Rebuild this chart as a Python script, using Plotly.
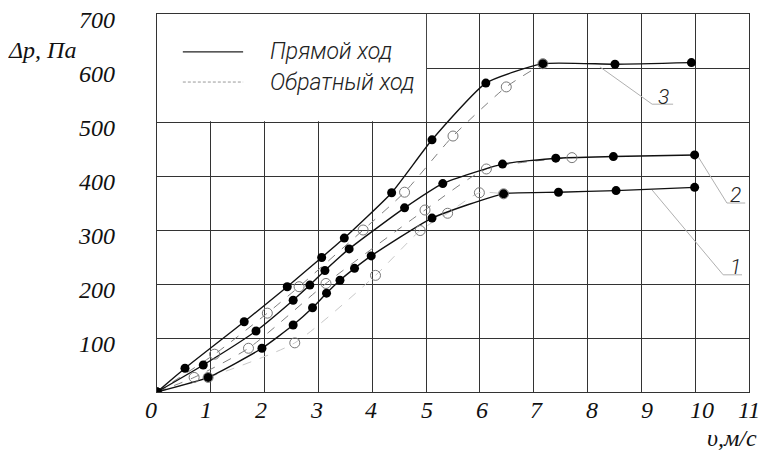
import plotly.graph_objects as go

# ---------------- data ----------------
v1_fwd = [0, 0.95, 1.95, 2.53, 2.89, 3.15, 3.40, 3.67, 3.98, 5.11, 6.44, 7.46, 8.53, 9.99]
p1_fwd = [0, 27, 81, 124, 156, 183, 207, 229, 252, 322, 367, 370, 373, 379]
v1_rev = [0, 0.95, 2.56, 4.06, 4.89, 5.40, 5.99, 6.44]
p1_rev = [0, 27, 91, 216, 299, 331, 369, 367]

v2_fwd = [0, 0.86, 1.84, 2.53, 2.84, 3.12, 3.57, 4.60, 5.31, 6.42, 7.41, 8.48, 9.99]
p2_fwd = [0, 50, 113, 170, 198, 225, 265, 341, 386, 422, 433, 436, 439]
v2_rev = [0, 0.69, 1.70, 3.14, 4.98, 6.12, 7.71]
p2_rev = [0, 27, 81, 201, 337, 413, 434]

v3_fwd = [0, 0.52, 1.62, 2.42, 3.06, 3.48, 4.36, 5.11, 6.11, 7.17, 8.51, 9.93]
p3_fwd = [0, 44, 130, 195, 249, 285, 369, 467, 572, 608, 607, 610]
v3_rev = [0, 1.07, 2.05, 2.64, 3.83, 4.60, 5.50, 6.49, 7.17]
p3_rev = [0, 70, 146, 195, 300, 370, 474, 565, 608]

x_ticks = list(range(0, 12))
x_tick_labels = [str(v) for v in x_ticks]
y_ticks = [100, 200, 300, 400, 500, 600, 700]
y_tick_labels = [str(v) for v in y_ticks]

legend_labels = ["Прямой ход", "Обратный ход"]
curve_labels = ["1", "2", "3"]
x_title = "υ,м/с"
y_title = "Δp, Па"

# ---------------- figure ----------------
# the page body has an 8px margin, so the figure is made 8px smaller
W, H = 759, 444
L, R, T, B = 149, 18, 6, 60

serif = "serif"
gost = "Roboto"

fig = go.Figure()

dash_gray = "#808080"
light_gray = "#c8c8c8"

rev_sets = [(v1_rev, p1_rev, light_gray, "dash"),
            (v2_rev, p2_rev, dash_gray, "dash"),
            (v3_rev, p3_rev, dash_gray, "dash")]
fwd_sets = [(v1_fwd, p1_fwd), (v2_fwd, p2_fwd), (v3_fwd, p3_fwd)]

for vx, py, col, dsh in rev_sets:
    fig.add_trace(go.Scatter(x=vx, y=py, mode="lines",
                             line=dict(color=col, width=1, dash=dsh, shape="spline", smoothing=0.6),
                             showlegend=False, hoverinfo="skip"))
for vx, py in fwd_sets:
    fig.add_trace(go.Scatter(x=vx, y=py, mode="lines",
                             line=dict(color="#111111", width=1.4, shape="spline", smoothing=0.5),
                             showlegend=False, hoverinfo="skip"))
for vx, py, col, dsh in rev_sets:
    fig.add_trace(go.Scatter(x=vx[1:], y=py[1:], mode="markers",
                             marker=dict(symbol="circle-open", size=10, color="#777777",
                                         line=dict(width=1, color="#777777")),
                             showlegend=False, hoverinfo="skip"))
for vx, py in fwd_sets:
    fig.add_trace(go.Scatter(x=vx, y=py, mode="markers",
                             marker=dict(symbol="circle", size=9, color="#000000"),
                             showlegend=False, hoverinfo="skip"))

axis_common = dict(showgrid=True, gridcolor="#333333", gridwidth=1, zeroline=False,
                   showline=True, linecolor="#333333", linewidth=1, mirror=True,
                   ticks="", showticklabels=False)

fig.update_xaxes(range=[0, 11], tickvals=x_ticks, **axis_common)
fig.update_yaxes(range=[0, 700], tickvals=[0] + y_ticks, **axis_common)

shapes = []
shapes.append(dict(type="rect", xref="x", yref="y", x0=0, x1=5, y0=501.5, y1=700,
                   fillcolor="white", line=dict(width=0), layer="between"))
shapes.append(dict(type="line", xref="x", yref="y", x0=0.48, x1=1.6, y0=630, y1=630,
                   line=dict(color="#222222", width=1.2)))
shapes.append(dict(type="line", xref="x", yref="y", x0=0.48, x1=1.6, y0=574, y1=574,
                   line=dict(color="#999999", width=1, dash="3px,2px")))
leaders = [
    [(9.20, 374), (10.52, 217), (10.87, 217)],
    [(10.06, 435), (10.59, 350), (10.93, 350)],
    [(8.23, 602), (9.20, 533), (9.59, 533)],
]
for pts in leaders:
    for (xa, ya), (xb, yb) in zip(pts[:-1], pts[1:]):
        shapes.append(dict(type="line", xref="x", yref="y", x0=xa, y0=ya, x1=xb, y1=yb,
                           line=dict(color="#b0b0b0", width=1)))
shapes.append(dict(type="line", xref="paper", yref="paper", x0=-0.253, x1=1.005, y0=1.021, y1=1.021,
                   line=dict(color="#eeeeee", width=1)))

ann = []
for v, t in zip(x_ticks, x_tick_labels):
    shift = -6 + 1.3 * v if v < 11 else 0
    ann.append(dict(x=v, y=0, xref="x", yref="paper", text=t, showarrow=False,
                    xanchor="center", yanchor="top", xshift=shift, yshift=-3,
                    font=dict(family=serif, size=24, color="#111111", style="italic")))
for v, t in zip(y_ticks, y_tick_labels):
    ann.append(dict(x=0, y=v, xref="paper", yref="y", text=t, showarrow=False,
                    xanchor="right", yanchor="middle", xshift=-40, yshift=-6,
                    font=dict(family=serif, size=24, color="#111111", style="italic")))
ann.append(dict(x=0, y=1, xref="paper", yref="paper", text=y_title, showarrow=False,
                xanchor="left", yanchor="middle", xshift=-151, yshift=-36,
                font=dict(family=serif, size=24, color="#111111", style="italic")))
ann.append(dict(x=1, y=0, xref="paper", yref="paper", text=x_title, showarrow=False,
                xanchor="right", yanchor="middle", xshift=10, yshift=-46,
                font=dict(family=serif, size=24, color="#111111", style="italic")))
ann.append(dict(x=2.06, y=630, xref="x", yref="y", text=legend_labels[0], showarrow=False,
                xanchor="left", yanchor="middle",
                font=dict(family=gost, size=23, weight=300, color="#222222", style="italic")))
ann.append(dict(x=2.06, y=574, xref="x", yref="y", text=legend_labels[1], showarrow=False,
                xanchor="left", yanchor="middle",
                font=dict(family=gost, size=23, weight=300, color="#222222", style="italic")))
for (xy, t) in zip([(10.74, 231), (10.74, 365), (9.41, 546)], curve_labels):
    ann.append(dict(x=xy[0], y=xy[1], xref="x", yref="y", text=t, showarrow=False,
                    xanchor="center", yanchor="middle",
                    font=dict(family=gost, size=21, weight=300, color="#222222", style="italic")))

fig.update_layout(width=W, height=H, margin=dict(l=L, r=R, t=T, b=B),
                  paper_bgcolor="white", plot_bgcolor="white",
                  shapes=shapes, annotations=ann, showlegend=False)

fig.write_html("out.html")
